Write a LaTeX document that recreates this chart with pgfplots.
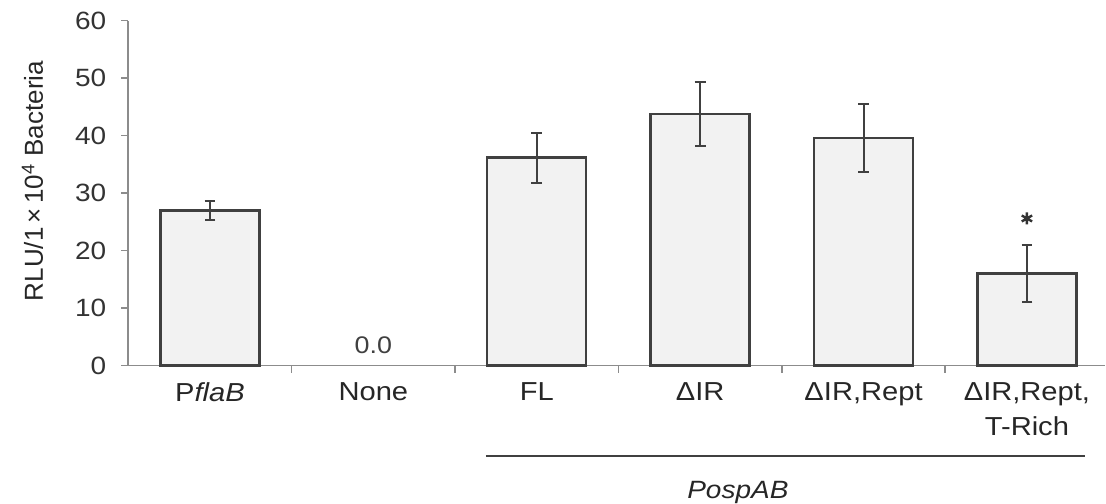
\documentclass[border=0pt]{standalone}
\usepackage{fontspec}
\setmainfont{Liberation Sans}[FakeStretch=1.12]
\newfontfamily\labelfont{Liberation Sans}
\usepackage{pgfplots}
\pgfplotsset{compat=1.18}
\definecolor{axisgray}{HTML}{8C8C8C}
\definecolor{bardraw}{HTML}{404040}
\definecolor{barfill}{HTML}{F2F2F2}
\begin{document}
\begin{tikzpicture}
\begin{axis}[
  scale only axis,
  width=488.6pt, height=172.5pt,
  xmin=-0.5, xmax=5.48, ymin=0, ymax=60,
  axis lines*=left,
  axis line style={draw=axisgray, line width=0.8pt},
  clip=false,
  tick align=outside,
  major tick length=3.5pt,
  ytick={0,10,...,60},
  ytick style={draw=axisgray, line width=0.8pt},
  yticklabel style={font=\fontsize{12.5}{14}\selectfont, text=black!80, xshift=-4pt},
  /pgf/number format/assume math mode=true,
  xtick={0.5,1.5,2.5,3.5,4.5},
  xticklabels={},
  xtick style={draw=axisgray, line width=0.8pt},
  extra x ticks={0,1,2,3,4,5},
  extra x tick labels={P\textit{flaB}, None, FL, ΔIR, {ΔIR,Rept}, {ΔIR,Rept,\\T-Rich}},
  extra x tick style={major tick length=0pt, xticklabel style={font=\fontsize{13}{17.5}\selectfont, align=center, text=black!85, yshift=-5pt}},
  ylabel={RLU/1\,×\,10\textsuperscript{4} Bacteria},
  ylabel style={at={(axis description cs:-0.0873,0.535)}, anchor=base, font=\labelfont\fontsize{13}{15}\selectfont, text=black!85},
]
\addplot[ybar, bar width=49.5pt, fill=barfill, draw=bardraw, line width=1.2pt,
  error bars/.cd, y dir=both, y explicit,
  error bar style={line width=1pt, draw=black!75},
  error mark options={rotate=90, mark size=2.7pt, line width=1pt, draw=black!75}]
  table[x=x, y=y, y error=e] {
  x y e
  0 27.0 1.6
  2 36.2 4.35
  3 43.8 5.6
  4 39.6 5.9
  5 16.0 5.0
  };
\addplot[draw=none, mark=none,
  nodes near coords={\pgfmathprintnumber[fixed,fixed zerofill,precision=1]{\pgfplotspointmeta}},
  every node near coord/.append style={anchor=center, yshift=10.35pt, font=\fontsize{12}{14}\selectfont, text=black!75}]
  coordinates {(1,0)};
\addplot[only marks, mark=asterisk, mark size=3pt, mark options={line width=1.2pt, draw=black!80}]
  coordinates {(5,25.6)};
\draw[line width=1pt, draw=black!75] (axis cs:1.689,-15.8) -- (axis cs:5.355,-15.8);
\node[anchor=base, font=\fontsize{12.5}{15}\selectfont, text=black!85] at (axis cs:3.231,-23.18) {\textit{PospAB}};
\coordinate (bbtl) at (axis cs:-1.285,63.6);
\coordinate (bbbr) at (axis cs:5.484,-24.05);
\end{axis}
\pgfresetboundingbox
\path (bbtl) rectangle (bbbr);
\end{tikzpicture}
\end{document}
